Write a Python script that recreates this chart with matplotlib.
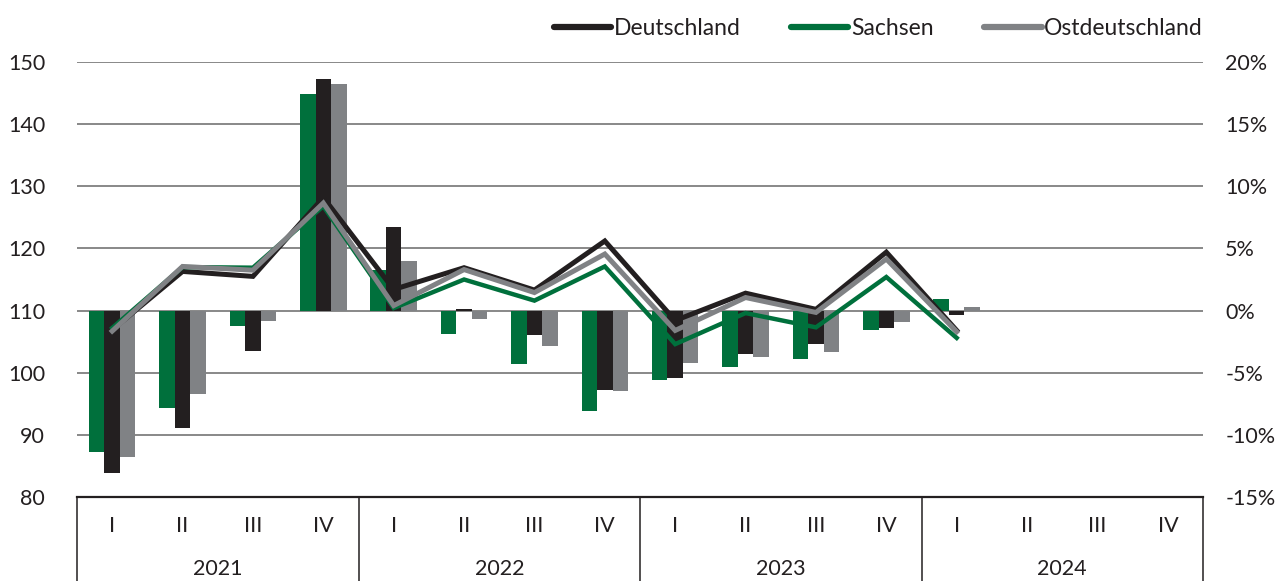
import matplotlib.pyplot as plt
from matplotlib.transforms import blended_transform_factory

plt.rcParams['font.family'] = ['Lato', 'DejaVu Sans']

quarters = ['I', 'II', 'III', 'IV'] * 4
years = ['2021', '2022', '2023', '2024']

# Veraenderung zum Vorjahresquartal in % (Balken, rechte Achse)
pct_sachsen = [-11.35, -7.85, -1.25, 17.4, 3.3, -1.9, -4.3, -8.05, -5.55, -4.55, -3.9, -1.55, 0.95]
pct_deutschland = [-13.1, -9.45, -3.25, 18.6, 6.7, 0.1, -2.0, -6.4, -5.45, -3.5, -2.65, -1.4, -0.35]
pct_ost = [-11.75, -6.7, -0.8, 18.25, 4.0, -0.65, -2.85, -6.5, -4.2, -3.75, -3.3, -0.9, 0.3]

# Index (Linien, linke Achse)
idx_deutschland = [106.9, 116.3, 115.5, 128.2, 113.4, 116.9, 113.3, 121.2, 108.4, 112.8, 110.2, 119.4, 106.8]
idx_sachsen = [107.2, 117.0, 116.9, 126.8, 110.4, 115.0, 111.6, 117.1, 104.6, 109.6, 107.3, 115.4, 105.6]
idx_ost = [106.7, 117.1, 116.5, 127.3, 110.8, 116.6, 112.9, 119.1, 106.8, 112.1, 109.7, 118.3, 106.6]

green = '#00703c'
black = '#231f20'
grey = '#808285'
text_col = '#231f20'
fs = 15.5

fig = plt.figure(figsize=(12.8, 5.81), dpi=100)
ax = fig.add_axes([77 / 1280, 1 - 497 / 581, 1126 / 1280, 435 / 581])
ax2 = ax.twinx()
ax.set_zorder(ax2.get_zorder() + 1)
ax.patch.set_visible(False)

n = len(pct_sachsen)
x = list(range(n))
w = 0.22

# Balken
ax2.bar([i - w for i in x], pct_sachsen, width=w, color=green, zorder=2)
ax2.bar(x, pct_deutschland, width=w, color=black, zorder=2)
ax2.bar([i + w for i in x], pct_ost, width=w, color=grey, zorder=2)
ax2.set_ylim(-15, 20)
ax2.set_yticks(range(-15, 25, 5))
ax2.set_yticklabels([f'{v}%' for v in range(-15, 25, 5)])
for v in range(-10, 25, 5):
    ax2.axhline(v, color='#7f7f7f', lw=1.3, zorder=1)

# Linien
ax.plot(x, idx_deutschland, color=black, lw=3.6, solid_joinstyle='miter', label='Deutschland')
ax.plot(x, idx_sachsen, color=green, lw=3.2, solid_joinstyle='miter', label='Sachsen')
ax.plot(x, idx_ost, color=grey, lw=3.6, solid_joinstyle='miter', label='Ostdeutschland')
ax.set_ylim(80, 150)
ax.set_yticks(range(80, 160, 10))
ax.set_xlim(-0.5, 15.5)

for a in (ax, ax2):
    for s in ('top', 'left', 'right', 'bottom'):
        a.spines[s].set_visible(False)
    a.tick_params(axis='y', length=0, labelsize=fs, labelcolor=text_col)
ax.tick_params(axis='y', pad=23)
ax2.tick_params(axis='y', pad=16)
ax.axhline(80, color=black, lw=1.6, clip_on=False, zorder=5)

ax.set_xticks(range(16))
ax.set_xticklabels(quarters)
ax.tick_params(axis='x', length=0, pad=14, labelsize=fs, labelcolor=text_col)

trans = blended_transform_factory(ax.transData, ax.transAxes)
for b in (-0.5, 3.5, 7.5, 11.5, 15.5):
    ax.plot([b, b], [0, -0.2], color=black, lw=1.1, transform=trans, clip_on=False)
for k, yr in enumerate(years):
    ax.text(4 * k + 1.5, -0.165, yr, transform=trans, ha='center', va='center',
            fontsize=fs, color=text_col)

leg = ax.legend(loc='center right', bbox_to_anchor=(1.0, 1.078), ncol=3, frameon=False,
                fontsize=16.5, handlelength=2.5, handletextpad=0.12, columnspacing=2.2,
                borderaxespad=0, borderpad=0)
for t in leg.get_texts():
    t.set_color(text_col)
for h in leg.get_lines():
    h.set_linewidth(4.5)
    h.set_solid_capstyle('round')

fig.savefig('out.png', dpi=100)
